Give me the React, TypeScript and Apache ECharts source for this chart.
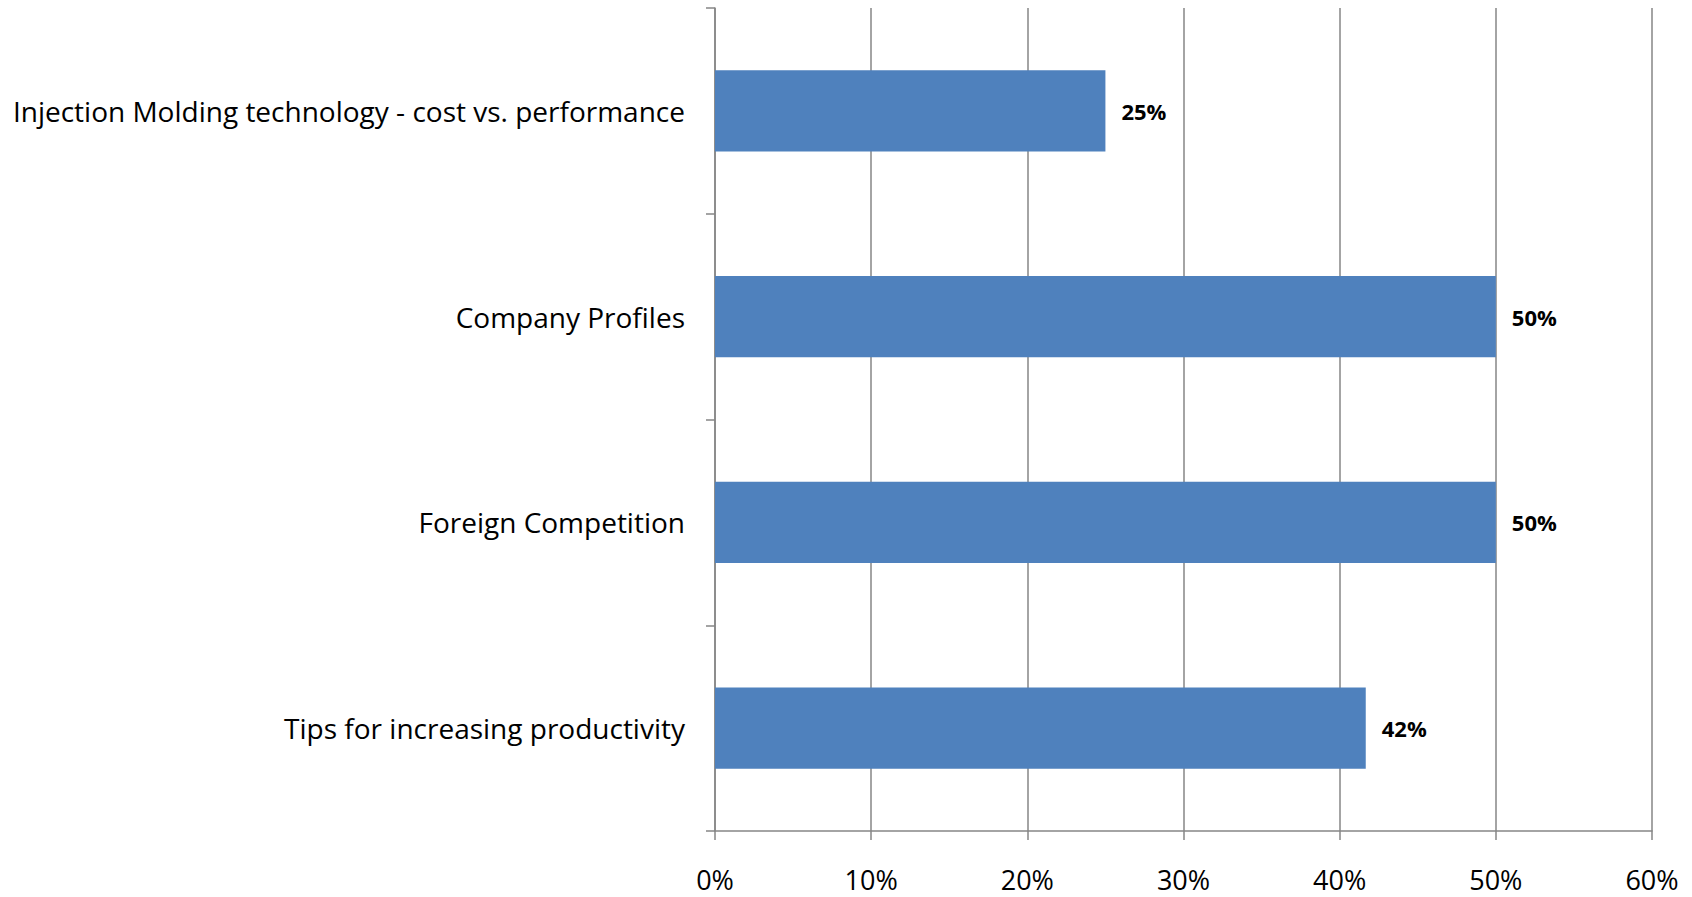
import React, { useEffect, useRef } from "react";
import * as echarts from "echarts";

const categories = [
  "Injection Molding technology - cost vs. performance",
  "Company Profiles",
  "Foreign Competition",
  "Tips for increasing productivity",
];
const values = [25, 50, 50, 41.67];
const xTicks = [0, 10, 20, 30, 40, 50, 60];

export default function App() {
  const ref = useRef<HTMLDivElement>(null);
  useEffect(() => {
    if (!ref.current) return;
    const chart = echarts.init(ref.current, undefined, { renderer: "svg" });
    const grey = "#868686";
    chart.setOption({
      animation: false,
      backgroundColor: "#ffffff",
      grid: { left: 715, right: 40, top: 8, bottom: 66, containLabel: false },
      xAxis: {
        type: "value",
        min: xTicks[0],
        max: xTicks[xTicks.length - 1],
        interval: 10,
        axisLine: { show: true, lineStyle: { color: grey, width: 1.5 } },
        axisTick: { show: true, inside: false, length: 9, lineStyle: { color: grey, width: 1.5 } },
        splitLine: { show: true, lineStyle: { color: grey, width: 1.5 } },
        axisLabel: {
          formatter: (v: number) => v + "%",
          fontFamily: "Open Sans",
          fontSize: 27,
          color: "#000",
          margin: 35,
        },
      },
      yAxis: {
        type: "category",
        inverse: true,
        data: categories,
        axisLine: { show: true, lineStyle: { color: grey, width: 1.5 } },
        axisTick: { show: true, inside: false, length: 9, alignWithLabel: false, lineStyle: { color: grey, width: 1.5 } },
        splitLine: { show: false },
        axisLabel: {
          fontFamily: "Open Sans",
          fontSize: 28,
          color: "#000",
          margin: 30,
        },
      },
      series: [
        {
          type: "bar",
          data: values,
          barWidth: "39.4%",
          itemStyle: { color: "#4F81BD" },
          label: {
            show: true,
            position: "right",
            distance: 16,
            formatter: (p: any) => Math.round(p.value) + "%",
            fontFamily: "Open Sans",
            fontWeight: "bold",
            fontSize: 22,
            color: "#000",
          },
        },
      ],
    });
    return () => chart.dispose();
  }, []);
  return (
    <div
      ref={ref}
      style={{ position: "fixed", left: 0, top: 0, width: 1692, height: 897 }}
    />
  );
}
